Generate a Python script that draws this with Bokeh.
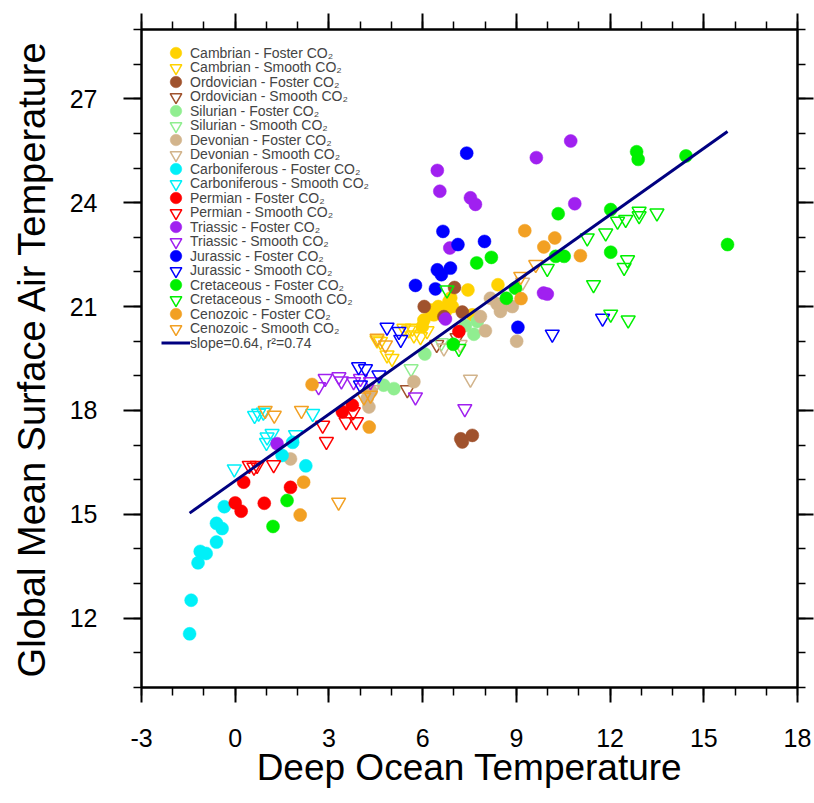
import numpy as np
from bokeh.plotting import figure
from bokeh.models import Range1d, FixedTicker, LinearAxis, Legend, LegendItem
from bokeh.embed import file_html
from bokeh.resources import INLINE

# ---------------- data ----------------
cambrian_foster_x = [5.99, 6.04, 6.25, 6.36, 6.50, 6.73, 6.84, 6.95, 6.90, 7.45, 7.59, 8.41]
cambrian_foster_y = [20.42, 20.61, 20.90, 20.76, 21.00, 20.86, 21.14, 21.00, 21.25, 21.48, 20.76, 21.63]
cambrian_smooth_x = [4.54, 4.65, 4.86, 5.02, 5.40, 5.55, 5.67, 5.72, 5.93, 6.14]
cambrian_smooth_y = [20.03, 19.99, 19.60, 19.50, 20.37, 20.32, 20.37, 20.18, 20.13, 20.30]

ordovician_foster_x = [6.05, 6.68, 7.02, 7.27, 7.22, 7.27, 7.59]
ordovician_foster_y = [21.00, 20.71, 21.55, 20.84, 17.18, 17.09, 17.28]
ordovician_smooth_x = [5.51, 6.45, 7.10]
ordovician_smooth_y = [18.60, 19.90, 20.10]

silurian_foster_x = [4.75, 5.08, 6.07, 7.37, 7.64, 7.75]
silurian_foster_y = [18.73, 18.63, 19.63, 20.45, 20.20, 20.57]
silurian_smooth_x = [5.63, 6.60]
silurian_smooth_y = [19.20, 19.95]

devonian_foster_x = [1.77, 4.22, 4.28, 4.35, 5.72, 7.85, 8.01, 8.17, 8.38, 8.49, 8.65, 8.87, 9.01]
devonian_foster_y = [16.60, 18.34, 18.10, 18.55, 18.83, 20.71, 20.30, 21.24, 21.08, 20.86, 21.05, 21.00, 20.00]
devonian_smooth_x = [4.40, 6.68, 7.20, 7.53, 9.20]
devonian_smooth_y = [18.60, 19.80, 19.90, 18.90, 21.70]

carboniferous_foster_x = [-1.46, -1.41, -1.19, -1.12, -0.93, -0.60, -0.60, -0.42, -0.35, 1.50, 1.84, 2.26]
carboniferous_foster_y = [11.55, 12.52, 13.60, 13.93, 13.87, 14.20, 14.74, 14.59, 15.22, 16.70, 17.08, 16.40]
carboniferous_smooth_x = [-0.03, 0.62, 0.75, 0.90, 1.00, 1.02, 1.18, 1.93, 2.48]
carboniferous_smooth_y = [16.31, 17.85, 17.92, 17.95, 17.07, 17.23, 17.33, 17.30, 17.91]

permian_foster_x = [0.00, 0.19, 0.27, 0.93, 1.77, 3.43, 3.75, 7.16]
permian_foster_y = [15.33, 15.09, 15.93, 15.32, 15.78, 17.96, 18.15, 20.28]
permian_smooth_x = [0.45, 0.60, 0.70, 1.23, 2.80, 2.92, 3.55, 3.88, 3.78]
permian_smooth_y = [16.41, 16.36, 16.41, 16.43, 17.57, 17.10, 17.67, 17.67, 17.96]

triassic_foster_x = [1.34, 6.47, 6.55, 6.73, 6.87, 7.53, 7.69, 9.64, 9.87, 9.99, 10.74, 10.87]
triassic_foster_y = [17.04, 24.93, 24.33, 20.64, 22.69, 24.14, 23.95, 25.30, 21.39, 21.36, 25.78, 23.97]
triassic_smooth_x = [2.67, 2.88, 3.32, 3.40, 3.79, 4.01, 4.33, 5.77, 7.35]
triassic_smooth_y = [18.68, 18.92, 18.97, 18.85, 18.83, 18.92, 18.83, 18.39, 18.05]

jurassic_foster_x = [5.77, 6.41, 6.47, 6.60, 6.65, 6.89, 7.13, 7.41, 7.98, 9.05]
jurassic_foster_y = [21.61, 21.51, 22.06, 21.92, 23.17, 22.11, 22.79, 25.43, 22.88, 20.40]
jurassic_smooth_x = [3.95, 4.17, 4.01, 4.60, 4.86, 5.24, 5.30, 10.15, 11.76]
jurassic_smooth_y = [19.26, 19.20, 18.73, 19.02, 20.40, 20.28, 20.05, 20.20, 20.66]

cretaceous_foster_x = [1.21, 1.66, 6.98, 7.73, 8.20, 8.68, 8.97, 10.26, 10.53, 10.34, 12.02, 12.02, 12.85, 12.90, 14.43, 15.76]
cretaceous_foster_y = [14.65, 15.40, 19.91, 22.26, 22.42, 21.24, 21.53, 22.45, 22.45, 23.68, 23.80, 22.57, 25.47, 25.25, 25.35, 22.79]
cretaceous_smooth_x = [6.78, 7.16, 9.99, 11.27, 11.47, 11.86, 12.02, 12.24, 12.45, 12.50, 12.56, 12.58, 12.93, 12.93, 13.50]
cretaceous_smooth_y = [21.48, 19.79, 22.10, 22.98, 21.63, 23.12, 20.78, 23.46, 22.13, 23.51, 22.35, 20.61, 23.75, 23.62, 23.70]

cenozoic_foster_x = [2.08, 2.19, 2.46, 4.29, 9.15, 9.27, 9.88, 10.23, 11.05]
cenozoic_foster_y = [14.98, 15.93, 18.75, 17.52, 21.23, 23.19, 22.72, 22.98, 22.47]
cenozoic_smooth_x = [0.96, 1.25, 2.12, 3.31, 4.12, 4.33, 4.54, 4.81, 9.14, 9.62]
cenozoic_smooth_y = [18.00, 17.86, 18.00, 15.35, 18.39, 18.44, 20.08, 19.89, 21.87, 22.21]

fit_slope = 0.64
fit_intercept = 15.97
fit_r2 = 0.74

x_major_ticks = [-3, 0, 3, 6, 9, 12, 15, 18]
x_minor_ticks = list(range(-3, 19))
y_major_ticks = [12, 15, 18, 21, 24, 27]
y_minor_ticks = list(range(10, 30))

periods = [
    ("Cambrian", "#FFD200", cambrian_foster_x, cambrian_foster_y, cambrian_smooth_x, cambrian_smooth_y),
    ("Ordovician", "#A0522D", ordovician_foster_x, ordovician_foster_y, ordovician_smooth_x, ordovician_smooth_y),
    ("Silurian", "#90EE90", silurian_foster_x, silurian_foster_y, silurian_smooth_x, silurian_smooth_y),
    ("Devonian", "#D2B48C", devonian_foster_x, devonian_foster_y, devonian_smooth_x, devonian_smooth_y),
    ("Carboniferous", "#00F0F8", carboniferous_foster_x, carboniferous_foster_y, carboniferous_smooth_x, carboniferous_smooth_y),
    ("Permian", "#FF0000", permian_foster_x, permian_foster_y, permian_smooth_x, permian_smooth_y),
    ("Triassic", "#A020F0", triassic_foster_x, triassic_foster_y, triassic_smooth_x, triassic_smooth_y),
    ("Jurassic", "#0000FF", jurassic_foster_x, jurassic_foster_y, jurassic_smooth_x, jurassic_smooth_y),
    ("Cretaceous", "#00F000", cretaceous_foster_x, cretaceous_foster_y, cretaceous_smooth_x, cretaceous_smooth_y),
    ("Cenozoic", "#F2A023", cenozoic_foster_x, cenozoic_foster_y, cenozoic_smooth_x, cenozoic_smooth_y),
]

FONT = "Liberation Sans"

p = figure(width=814, height=803,
           x_range=Range1d(-3, 18), y_range=Range1d(10, 29),
           output_backend="svg", toolbar_location=None,
           min_border_left=141, min_border_right=17,
           min_border_top=29, min_border_bottom=116,
           x_axis_label="Deep Ocean Temperature",
           y_axis_label="Global Mean Surface Air Temperature")
p.grid.visible = False
p.outline_line_color = "black"
p.outline_line_width = 2
p.background_fill_color = "white"
p.border_fill_color = "white"


def style_axis(ax, major_out, minor_out, labels=True, title_size="37px"):
    ax.axis_line_width = 2
    ax.axis_line_color = "black"
    ax.major_tick_line_width = 2
    ax.minor_tick_line_width = 1.5
    ax.major_tick_in = 0
    ax.minor_tick_in = 0
    ax.major_tick_out = major_out
    ax.minor_tick_out = minor_out
    if labels:
        ax.major_label_text_font = FONT
        ax.major_label_text_font_size = "25px"
        ax.major_label_text_color = "black"
        ax.axis_label_text_font = FONT
        ax.axis_label_text_font_size = title_size
        ax.axis_label_text_font_style = "normal"
        ax.axis_label_text_color = "black"
    else:
        ax.major_label_text_font_size = "1px"
        ax.major_label_text_color = None
        ax.major_label_standoff = 0


xa = p.xaxis[0]
xa.ticker = FixedTicker(ticks=x_major_ticks, minor_ticks=x_minor_ticks)
style_axis(xa, 15, 8, title_size="37px")
xa.major_label_standoff = 26
xa.axis_label_standoff = -3
xa.major_label_overrides = {t: str(t) for t in x_major_ticks}

ya = p.yaxis[0]
ya.ticker = FixedTicker(ticks=y_major_ticks, minor_ticks=y_minor_ticks)
style_axis(ya, 18, 8, title_size="38px")
ya.major_label_standoff = 26
ya.axis_label_standoff = 14
ya.major_label_orientation = "horizontal"

top_ax = LinearAxis(ticker=FixedTicker(ticks=x_major_ticks, minor_ticks=x_minor_ticks))
style_axis(top_ax, 16, 8, labels=False)
p.add_layout(top_ax, "above")

right_ax = LinearAxis(ticker=FixedTicker(ticks=y_major_ticks, minor_ticks=y_minor_ticks))
style_axis(right_ax, 16, 8, labels=False)
p.add_layout(right_ax, "right")

foster_items = []
smooth_items = []
for name, col, fx, fy, sx, sy in periods:
    r1 = p.scatter(fx, fy, marker="circle", size=13, fill_color=col, line_color=col, line_width=0.5)
    r2 = p.scatter(sx, sy, marker="inverted_triangle", size=14, fill_alpha=0,
                   line_color=col, line_width=1.5)
    foster_items.append(LegendItem(label=f"{name} - Foster CO\u2082", renderers=[r1]))
    smooth_items.append(LegendItem(label=f"{name} - Smooth CO\u2082", renderers=[r2]))

all_x = np.concatenate([np.concatenate([np.asarray(a[2]), np.asarray(a[4])]) for a in periods])
fit_x = np.array([all_x.min(), all_x.max()])
fit_y = fit_intercept + fit_slope * fit_x
rl = p.line(fit_x, fit_y, line_color="#000080", line_width=3)
foster_items.append(LegendItem(label=f"slope={fit_slope:.2f}, r\u00b2={fit_r2:.2f}", renderers=[rl]))

legend_style = dict(glyph_width=29, glyph_height=29, spacing=0, label_standoff=0,
                    label_height=14, padding=0, margin=0,
                    label_text_font=FONT, label_text_font_size="14px",
                    background_fill_alpha=0, border_line_alpha=0)
# two interleaved legend columns: Foster rows and Smooth rows alternate
legend_a = Legend(items=foster_items, location=(20, 330), **legend_style)
legend_b = Legend(items=smooth_items, location=(20, 344.5), **legend_style)
p.add_layout(legend_a)
p.add_layout(legend_b)

open("out.html", "w").write(file_html(p, INLINE))
